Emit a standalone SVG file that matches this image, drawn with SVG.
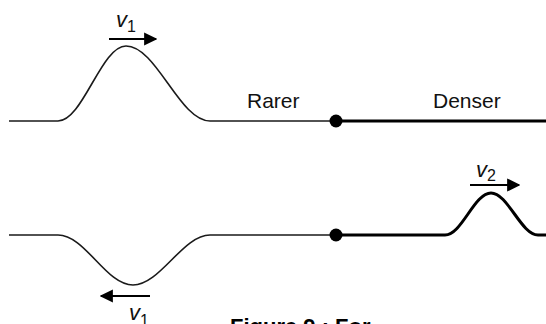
<svg xmlns="http://www.w3.org/2000/svg" width="546" height="324" viewBox="0 0 546 324">
<defs>
<style>
.thin{fill:none;stroke:#1a1a1a;stroke-width:1.6;}
.thick{fill:none;stroke:#000;stroke-width:3;}
.arr{fill:none;stroke:#000;stroke-width:2.2;}
.lbl{font-family:"Liberation Sans",Arial,sans-serif;font-size:21px;fill:#111;}
.v{font-family:"Liberation Sans",Arial,sans-serif;font-size:22px;font-style:italic;fill:#111;}
.sub{font-family:"Liberation Sans",Arial,sans-serif;font-size:16px;fill:#111;}
.cap{font-family:"Liberation Sans",Arial,sans-serif;font-size:22px;font-weight:bold;fill:#000;}
</style>
<marker id="ah" viewBox="0 0 10 10" refX="9" refY="5" markerWidth="6" markerHeight="6" orient="auto" markerUnits="strokeWidth">
<path d="M0,0 L10,5 L0,10 Z" fill="#000"/>
</marker>
</defs>
<rect width="546" height="324" fill="#fff"/>
<g id="top-string">
<path class="thin" d="M9,121 L58,121 C82.8,121 101.2,46 126,46 C156.6,46 179.4,121 210,121 L336,121"/>
<path class="thick" d="M336,121 L546,121"/>
<circle cx="336" cy="121" r="6.5" fill="#000"/>
</g>
<g id="bottom-string">
<path class="thin" d="M9,235 L58,235 C85.3,235 105.7,285 133,285 C160.3,285 182.7,235 210,235 L336,235"/>
<path class="thick" d="M336,235 L445,235 C461.8,235 474.2,193 491,193 C507.8,193 521.2,235 538,235 L546,235"/>
<circle cx="336" cy="235" r="6.5" fill="#000"/>
</g>
<g id="labels">
<text class="lbl" x="247" y="108">Rarer</text>
<text class="lbl" x="433" y="108">Denser</text>
</g>
<g id="connectors">
<path class="arr" d="M109,39 L156,39" marker-end="url(#ah)"/>
<path class="arr" d="M470,185 L519,185" marker-end="url(#ah)"/>
<path class="arr" d="M150,296 L101,296" marker-end="url(#ah)"/>
</g>
<g id="v1-top">
<text class="v" x="116" y="27">v</text><text class="sub" x="127" y="32">1</text>
</g>
<g id="v2">
<text class="v" x="476" y="177">v</text><text class="sub" x="487" y="181">2</text>
</g>
<g id="v1-bottom">
<text class="v" x="129" y="320">v</text><text class="sub" x="140" y="326">1</text>
</g>
<g id="caption">
<text class="cap" x="230" y="334">Figure 9 : For</text>
</g>
</svg>
